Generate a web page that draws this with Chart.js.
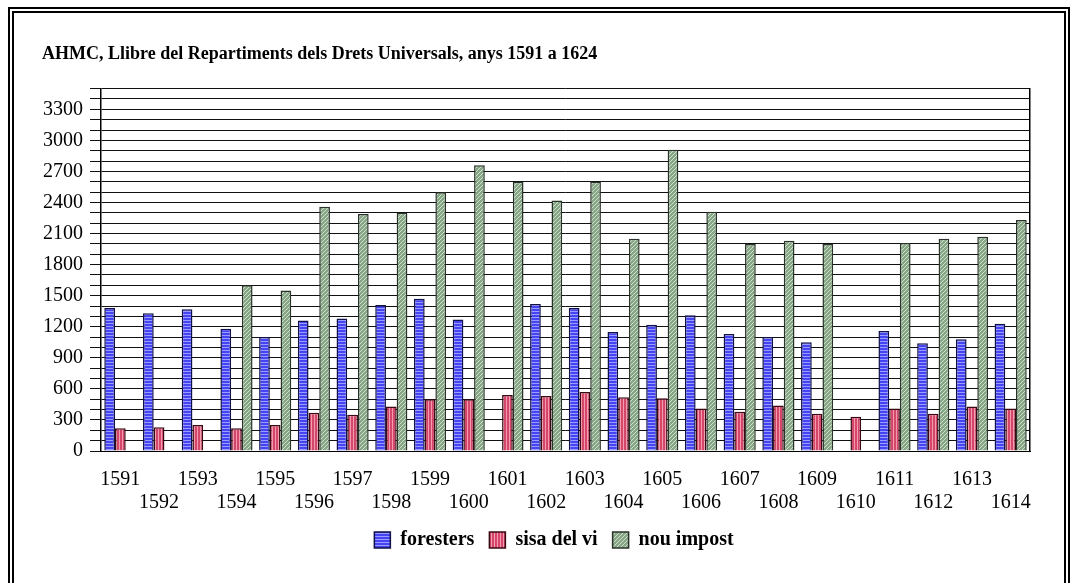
<!DOCTYPE html>
<html>
<head>
<meta charset="utf-8">
<script src="https://cdn.jsdelivr.net/npm/chart.js@4/dist/chart.umd.min.js"></script>
<style>
  html, body { margin: 0; padding: 0; background: #fff; overflow: hidden; }
  #wrap { position: absolute; left: 0; top: 0; width: 1075px; height: 583px; }
  #frame {
    position: absolute; left: 8px; top: 7px; width: 1050px; height: 600px;
    border: 6px double #000; border-bottom: none; pointer-events: none;
  }
</style>
</head>
<body>
<div id="wrap"><canvas id="myChart" width="1075" height="583"></canvas></div>
<div id="frame"></div>
<script>
const years = ['1591', '1592', '1593', '1594', '1595', '1596', '1597', '1598', '1599', '1600', '1601', '1602',
    '1603', '1604', '1605', '1606', '1607', '1608', '1609', '1610', '1611', '1612', '1613', '1614'];
const foresters = [1380, 1330, 1370, 1180, 1100, 1260, 1280, 1410, 1470, 1270, null, 1420,
    1380, 1150, 1220, 1310, 1130, 1100, 1050, null, 1160, 1040, 1080, 1230];
const sisa_del_vi = [220, 230, 250, 220, 250, 370, 350, 430, 500, 500, 540, 530,
    570, 520, 510, 410, 380, 440, 360, 330, 410, 360, 430, 410];
const nou_impost = [null, null, null, 1600, 1550, 2360, 2290, 2300, 2500, 2760, 2600, 2420,
    2600, 2050, 2910, 2310, 2000, 2030, 2000, null, 2010, 2050, 2070, 2230];

function makePattern(kind) {
    const c = document.createElement('canvas');
    const ctx = c.getContext('2d');
    if (kind === 'h') {
        c.width = 3; c.height = 3;
        ctx.fillStyle = '#4444f2'; ctx.fillRect(0, 0, 3, 3);
        ctx.fillStyle = '#9c9cff'; ctx.fillRect(0, 2, 3, 1);
    } else if (kind === 'v') {
        c.width = 3; c.height = 3;
        ctx.fillStyle = '#d4466a'; ctx.fillRect(0, 0, 3, 3);
        ctx.fillStyle = '#f29aae'; ctx.fillRect(2, 0, 1, 3);
    } else {
        c.width = 4; c.height = 4;
        ctx.fillStyle = '#86a686'; ctx.fillRect(0, 0, 4, 4);
        ctx.fillStyle = '#cfe0cf';
        for (let i = 0; i < 4; i++) ctx.fillRect(i, 3 - i, 1, 1);
    }
    return ctx.createPattern(c, 'repeat');
}

const serif = 'Liberation Serif';

const data = {
    labels: years.map((y, i) => i % 2 === 0 ? [y, ''] : ['', y]),
    datasets: [
        {
            label: 'foresters',
            data: foresters,
            backgroundColor: makePattern('h'),
            borderColor: '#10104a',
            borderWidth: 1.5,
        },
        {
            label: 'sisa del vi',
            data: sisa_del_vi,
            backgroundColor: makePattern('v'),
            borderColor: '#3a0a14',
            borderWidth: 1.5,
        },
        {
            label: 'nou impost',
            data: nou_impost,
            backgroundColor: makePattern('d'),
            borderColor: '#2a332a',
            borderWidth: 1.5,
        }
    ]
};

const config = {
    type: 'bar',
    data: data,
    options: {
        responsive: false,
        animation: false,
        layout: {
            padding: { left: 42, right: 9, top: 44, bottom: 23 }
        },
        datasets: {
            bar: {
                categoryPercentage: 0.83,
                barPercentage: 1.0,
            }
        },
        scales: {
            x: {
                afterFit: (axis) => { axis.height = 64; },
                grid: { display: false, drawTicks: false },
                border: { display: true, color: '#000', width: 1 },
                ticks: {
                    autoSkip: false,
                    maxRotation: 0,
                    padding: 17,
                    color: '#000',
                    font: { family: serif, size: 20, lineHeight: 1.15 },
                },
            },
            y: {
                min: 0,
                max: 3500,
                afterFit: (axis) => { axis.width = 59; },
                ticks: {
                    stepSize: 100,
                    autoSkip: false,
                    padding: 7,
                    color: '#000',
                    font: { family: serif, size: 20 },
                    callback: (v) => (v % 300 === 0 && v <= 3300) ? v : '',
                },
                grid: { color: '#111', lineWidth: 1, tickLength: 11 },
                border: { display: true, color: '#000', width: 1.5 },
            },
            y2: {
                position: 'right',
                min: 0,
                max: 3500,
                afterFit: (axis) => { axis.width = 36; },
                ticks: { display: false },
                grid: { display: false },
                border: { display: true, color: '#000', width: 1.5 },
            }
        },
        plugins: {
            legend: {
                position: 'bottom',
                labels: {
                    boxWidth: 16,
                    boxHeight: 16,
                    padding: 15,
                    color: '#000',
                    font: { family: serif, size: 20, weight: 'bold' },
                }
            },
            title: {
                display: true,
                text: 'AHMC, Llibre del Repartiments dels Drets Universals, anys 1591 a 1624',
                align: 'start',
                color: '#000',
                padding: { top: 0, bottom: 23 },
                font: { family: serif, size: 18, weight: 'bold' },
            },
            tooltip: { enabled: false }
        }
    },
};

/*eslint-disable no-unused-vars*/
const graphe = new Chart(document.getElementById('myChart'), config);
</script>
</body>
</html>
